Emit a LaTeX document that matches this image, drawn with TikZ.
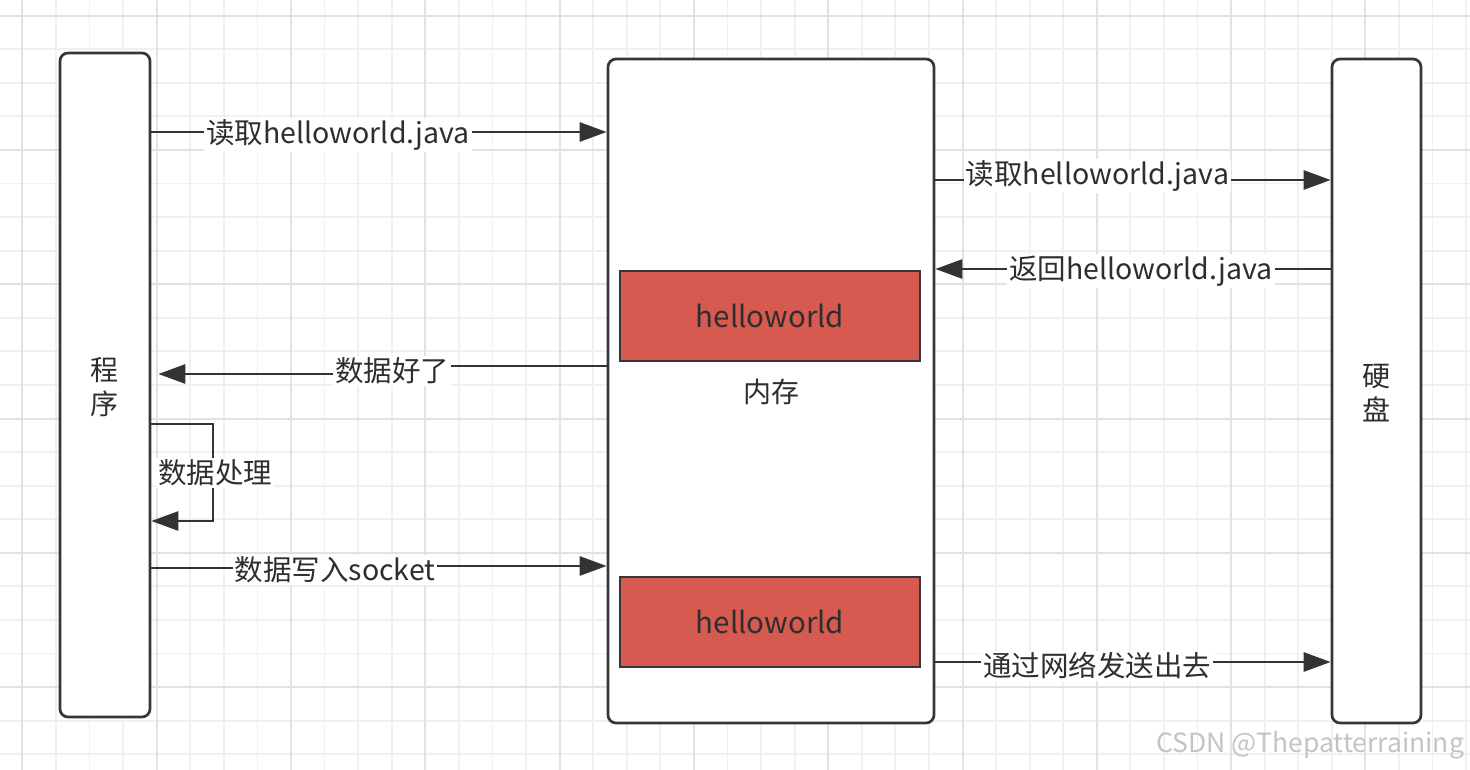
\documentclass[tikz,border=0pt]{standalone}
\usepackage{fontspec}
\setmainfont{Noto Sans CJK SC}
\usetikzlibrary{arrows.meta}
\definecolor{boxc}{HTML}{33363B}
\definecolor{txt}{HTML}{2E2E2E}
\definecolor{memred}{HTML}{D65A50}
\definecolor{linec}{HTML}{333333}
\definecolor{gridminor}{HTML}{F0F0F0}
\definecolor{gridmajor}{HTML}{E2E2E2}
\definecolor{wmark}{HTML}{C4C4C4}
\begin{document}
\begin{tikzpicture}[x=1pt,y=-1pt,
  box/.style={draw=boxc, line width=2.7pt, rounded corners=8pt, fill=white, inner sep=0pt},
  membox/.style={draw=boxc, line width=2.7pt, fill=memred, text=txt, inner sep=0pt,
    minimum width=300pt, minimum height=90pt, font=\fontsize{29.5}{32}\selectfont},
  lbl/.style={fill=white, text=txt, inner sep=2pt, font=\fontsize{28.5}{32}\selectfont},
  vlbl/.style={text=txt, align=center, font=\fontsize{28}{34}\selectfont},
  conn/.style={draw=linec, line width=2.8pt, -{Triangle[length=27pt,width=19pt]}},
]
\useasboundingbox[fill=white] (0,0) rectangle (1470,770);
% grid
\foreach \i in {0,...,43} {
  \draw[gridminor, line width=1.8pt] ({22.4+33.575*\i},0) -- ({22.4+33.575*\i},770);
}
\foreach \i in {0,...,22} {
  \draw[gridminor, line width=1.8pt] (0,{15.6+33.575*\i}) -- (1470,{15.6+33.575*\i});
}
\foreach \i in {0,...,10} {
  \draw[gridmajor, line width=2pt] ({22.4+134.3*\i},0) -- ({22.4+134.3*\i},770);
}
\foreach \i in {0,...,5} {
  \draw[gridmajor, line width=2pt] (0,{15.6+134.3*\i}) -- (1470,{15.6+134.3*\i});
}

% main boxes
\node[box, minimum width=90pt, minimum height=664pt] (prog) at (105,385) {};
\node[vlbl] (progtxt) at (104,387) {程\\序};
\node[box, minimum width=326pt, minimum height=664pt] (mem) at (771,391) {};
\node[box, minimum width=89pt, minimum height=664pt] (disk) at (1376.5,391) {};
\node[vlbl] (disktxt) at (1376,393) {硬\\盘};

\node[membox] (hw1) at (770,316) {helloworld};
\node[membox] (hw2) at (770,622) {helloworld};
\node[vlbl] (memlbl) at (771,392) {内存};

% connectors
\draw[conn] (prog.east |- 0,132) -- node[lbl, pos=0.41, yshift=-3pt] {读取helloworld.java} (mem.west |- 0,132);
\draw[conn] (mem.east |- 0,180) -- node[lbl, pos=0.41, yshift=4pt] {读取helloworld.java} (disk.west |- 0,180);
\draw[conn] (disk.west |- 0,269) -- node[lbl, pos=0.48, yshift=-2pt] {返回helloworld.java} (mem.east |- 0,269);
\coordinate (j1) at (392,366);
\coordinate (j2) at (392,374);
\draw[conn] (mem.west |- j1) -- (j1) -- (j2) -- ([xshift=7pt]prog.east |- j2);
\node[lbl] (l4) at (392,371) {数据好了};
\coordinate (s1) at (213,424);
\coordinate (s2) at (213,521);
\draw[conn] (prog.east |- s1) -- (s1) -- (s2) -- (prog.east |- s2);
\node[lbl] (l5) at (215,473) {数据处理};
\coordinate (k1) at (335,568);
\coordinate (k2) at (335,566);
\draw[conn] (prog.east |- k1) -- (k1) -- (k2) -- (mem.west |- k2);
\node[lbl] (l6) at (335,570) {数据写入socket};
\draw[conn] (mem.east |- 0,662) -- node[lbl, pos=0.41, yshift=-4pt] {通过网络发送出去} (disk.west |- 0,662);

% watermark
\node[text=wmark, font=\fontsize{26.5}{28}\selectfont, inner sep=0pt] (wm) at (1310,745) {CSDN @Thepatterraining};
\end{tikzpicture}
\end{document}
